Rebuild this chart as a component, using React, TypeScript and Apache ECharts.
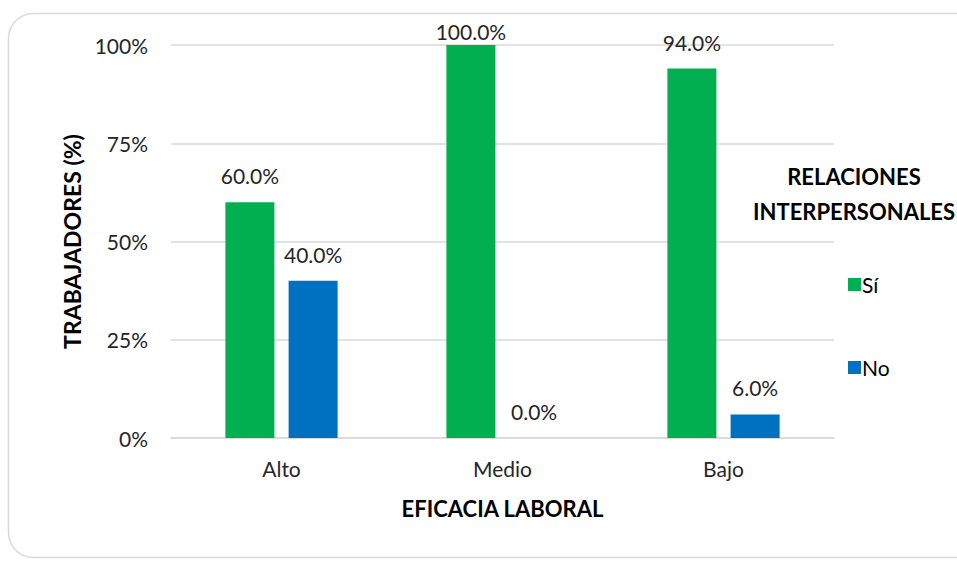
import React, { useEffect, useRef } from "react";
import * as echarts from "echarts";

const categories = ["Alto", "Medio", "Bajo"];
const siValues = [0.6, 1.0, 0.94];
const noValues = [0.4, 0.0, 0.06];
const yTicks = [0, 0.25, 0.5, 0.75, 1];
const seriesNames = ["Sí", "No"];

const FONT = "Lato";
const TEXT = "#262626";
const FS = 21;

export default function App() {
  const ref = useRef<HTMLDivElement>(null);
  useEffect(() => {
    if (!ref.current) return;
    const chart = echarts.init(ref.current, undefined, { renderer: "svg" });
    const pct = (v: number) => (v * 100).toFixed(1) + "%";
    const toData = (vals: number[]) =>
      vals.map((v) => (v >= 1 ? { value: v, label: { distance: 3 } } : v));
    const labelCfg = {
      show: true,
      position: "top",
      distance: 16,
      fontSize: FS,
      color: TEXT,
      fontFamily: FONT,
      formatter: (p: any) => pct(p.value),
    };
    chart.setOption({
      animation: false,
      textStyle: { fontFamily: FONT },
      grid: { left: 171, right: 123, top: 45, bottom: 124 },
      graphic: [
        {
          type: "rect",
          shape: { x: 8.5, y: 13.5, width: 1000, height: 544, r: 25 },
          style: { fill: "none", stroke: "#d9d9d9", lineWidth: 1.5 },
          z: -1,
        },
        {
          type: "text",
          x: 854,
          y: 194,
          style: {
            text: "RELACIONES\nINTERPERSONALES",
            align: "center",
            verticalAlign: "middle",
            font: `bold 22px ${FONT}`,
            fill: "#000",
            lineHeight: 35,
          },
        },
      ],
      legend: {
        orient: "vertical",
        left: 843,
        top: 269,
        itemWidth: 13,
        itemHeight: 13,
        itemGap: 62,
        icon: "rect",
        textStyle: { fontSize: FS, lineHeight: 20, color: "#000", fontFamily: FONT, padding: [0, 0, 0, -4] },
        data: seriesNames,
      },
      xAxis: {
        type: "category",
        data: categories,
        name: "EFICACIA LABORAL",
        nameLocation: "middle",
        nameGap: 59,
        nameTextStyle: { fontSize: 22, fontWeight: "bold", color: "#000", fontFamily: FONT },
        axisLine: { lineStyle: { color: "#d9d9d9", width: 1.5 } },
        axisTick: { show: false },
        axisLabel: { fontSize: FS, color: TEXT, margin: 20, fontFamily: FONT },
      },
      yAxis: {
        type: "value",
        min: 0,
        max: 1,
        interval: 0.25,
        name: "TRABAJADORES (%)",
        nameLocation: "middle",
        nameGap: 84,
        nameRotate: 90,
        nameTextStyle: { fontSize: 23, fontWeight: "bold", color: "#000", fontFamily: FONT },
        axisLabel: {
          fontSize: FS,
          color: TEXT,
          margin: 23,
          fontFamily: FONT,
          formatter: (v: number) => (yTicks.includes(v) ? Math.round(v * 100) + "%" : ""),
        },
        splitLine: { lineStyle: { color: "#d9d9d9", width: 1.5 } },
        axisLine: { show: false },
        axisTick: { show: false },
      },
      series: [
        {
          name: seriesNames[0],
          type: "bar",
          data: toData(siValues),
          barWidth: 49,
          barGap: "29%",
          itemStyle: { color: "#00B050" },
          label: labelCfg,
        },
        {
          name: seriesNames[1],
          type: "bar",
          data: toData(noValues),
          barWidth: 49,
          barGap: "29%",
          itemStyle: { color: "#0070C0" },
          label: labelCfg,
        },
      ],
    });
    return () => chart.dispose();
  }, []);
  return (
    <div
      ref={ref}
      style={{ position: "fixed", left: 0, top: 0, width: 957, height: 562, background: "#fff" }}
    />
  );
}
